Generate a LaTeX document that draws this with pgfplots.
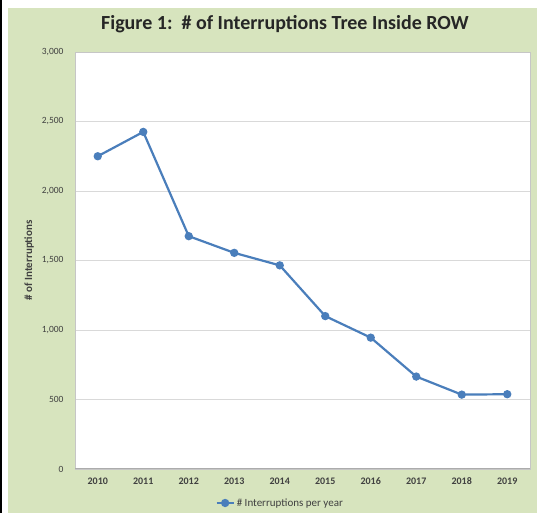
\documentclass[border=0pt]{standalone}
\usepackage{fontspec}
\setmainfont{Carlito}
\usepackage{pgfplots}
\pgfplotsset{compat=1.18}

\definecolor{panelgreen}{RGB}{215,228,190}
\definecolor{lineblue}{RGB}{74,126,187}
\definecolor{gridgray}{RGB}{217,217,217}
\definecolor{labelgray}{RGB}{64,64,64}

\begin{document}
\begin{tikzpicture}
  % page and chart panel
  \fill[white] (0pt,0pt) rectangle (537pt,513pt);
  \fill[black] (0pt,0pt) rectangle (2pt,513pt);
  \fill[panelgreen] (8pt,0pt) rectangle (537pt,505pt);

  \begin{axis}[
      at={(75pt,44pt)}, anchor=south west,
      scale only axis,
      width=455pt, height=417pt,
      xmin=2009.5, xmax=2019.5,
      ymin=0, ymax=3000,
      xtick={2010,...,2019},
      ytick={0,500,...,3000},
      x tick label style={/pgf/number format/1000 sep={}},
      y tick label style={/pgf/number format/1000 sep={,}},
      /pgf/number format/assume math mode=true,
      major tick length=0pt,
      axis background/.style={fill=white},
      axis line style={draw=gray!45},
      ymajorgrids,
      major grid style={draw=gridgray, line width=0.9pt},
      ticklabel style={font=\fontsize{9.5}{11}\selectfont, text=labelgray},
      xticklabel style={font=\fontsize{10}{11}\selectfont\bfseries, yshift=-5pt},
      yticklabel style={xshift=-8pt},
      title={Figure 1:\ \ \# of Interruptions Tree Inside ROW},
      title style={at={(0.4615,1.053)}, anchor=center,
        font=\fontsize{20}{22}\selectfont\bfseries, text=black!85},
      ylabel={\# of Interruptions},
      ylabel style={at={(-0.101,0.5)}, anchor=center,
        font=\fontsize{11}{12}\selectfont\bfseries, text=labelgray},
      legend style={at={(0.451,-0.0815)}, anchor=center,
        draw=none, fill=none,
        font=\fontsize{11}{12}\selectfont, text=labelgray},
      legend cell align=left,
    ]
    \addplot[color=lineblue, line width=2.2pt,
      mark=*, mark size=3pt, mark options={fill=lineblue, draw=lineblue}]
      coordinates {
        (2010,2250) (2011,2425) (2012,1675) (2013,1555) (2014,1465)
        (2015,1100) (2016,945) (2017,665) (2018,535) (2019,538)
      };
    \addlegendentry{\# Interruptions per year}
  \end{axis}
  % bottom axis line, a bit darker than the rest of the frame
  \draw[gray!65, line width=1pt] (75pt,44pt) -- (530pt,44pt);
\end{tikzpicture}
\end{document}
